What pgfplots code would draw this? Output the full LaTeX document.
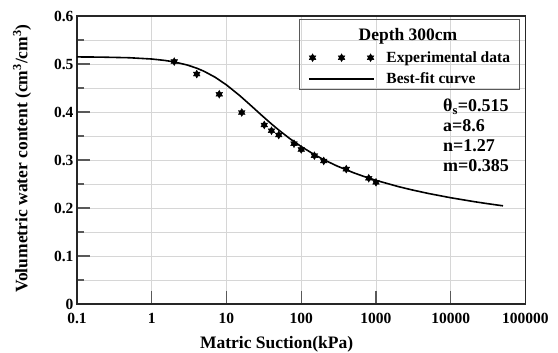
\documentclass[border=0pt]{standalone}
\usepackage{pgfplots}
\pgfplotsset{compat=1.18}
\usepackage{fontspec}
\setmainfont{Liberation Serif}

% filled six-pointed star made of two overlapping triangles
\pgfdeclareplotmark{hexstar}{%
  \pgfpathmoveto{\pgfqpointpolar{90}{\pgfplotmarksize}}%
  \pgfpathlineto{\pgfqpointpolar{210}{\pgfplotmarksize}}%
  \pgfpathlineto{\pgfqpointpolar{330}{\pgfplotmarksize}}%
  \pgfpathclose
  \pgfpathmoveto{\pgfqpointpolar{270}{\pgfplotmarksize}}%
  \pgfpathlineto{\pgfqpointpolar{30}{\pgfplotmarksize}}%
  \pgfpathlineto{\pgfqpointpolar{150}{\pgfplotmarksize}}%
  \pgfpathclose
  \pgfusepathqfillstroke}

% measured water content, depth 300 cm
\pgfplotstableread{
psi theta
2    0.505
4    0.479
8    0.437
16   0.399
32   0.373
40   0.361
50   0.352
80   0.334
100  0.322
150  0.309
200  0.298
400  0.281
800  0.262
1000 0.2535
}\measured

% fitted curve (theta_s=0.515, a=8.6, n=1.27, m=0.385)
\pgfplotstableread{
psi theta
0.1   0.51475
0.2   0.51439
0.5   0.51305
1     0.51039
1.5   0.50742
2     0.50429
3     0.49781
4     0.49128
5     0.48487
7     0.47269
10    0.45641
15    0.43427
20    0.41705
25    0.40338
30    0.39219
40    0.37507
50    0.36242
70    0.34473
100   0.32793
150   0.31120
200   0.30071
300   0.28762
500   0.27349
700   0.26537
1000  0.25759
2000  0.24451
3000  0.23786
5000  0.23033
10000 0.22135
20000 0.21351
30000 0.20936
50000 0.20452
}\fitted

\newcommand\tickfont{\fontsize{15.5bp}{18bp}\selectfont\bfseries}
\newcommand\labfont{\fontsize{17.5bp}{20bp}\selectfont\bfseries}

\begin{document}
\begin{tikzpicture}
\begin{axis}[
  scale only axis,
  width=448.5bp, height=288bp,
  xmode=log, log basis x=10,
  xmin=0.1, xmax=100000, ymin=0, ymax=0.6,
  xtick={0.1,1,10,100,1000,10000,100000},
  xticklabels={0.1,1,10,100,1000,10000,100000},
  ytick={0,0.1,0.2,0.3,0.4,0.5,0.6},
  yticklabels={0,0.1,0.2,0.3,0.4,0.5,0.6},
  minor ytick={0.05,0.15,0.25,0.35,0.45,0.55},
  grid=both,
  major grid style={gray!32, line width=0.8bp},
  minor grid style={gray!32, line width=0.8bp},
  tick align=inside,
  xtick pos=left, ytick pos=left,
  major tick length=13bp, minor tick length=7bp,
  every tick/.style={black!65, line width=1.4bp},
  axis line style={black!85, line width=1.6bp},
  /pgf/number format/assume math mode=true,
  tick label style={font=\tickfont},
  xticklabel style={yshift=-6bp},
  xlabel={Matric Suction(kPa)},
  ylabel={Volumetric water content (cm\textsuperscript{3}/cm\textsuperscript{3})},
  label style={font=\labfont},
  xlabel style={at={(axis description cs:0.445,-0.141)}, anchor=center},
  ylabel style={at={(axis description cs:-0.1226,0.505)}, anchor=center},
  legend style={at={(rel axis cs:0.515,0.818)}, anchor=west,
    draw=none, fill=none, font=\tickfont, inner sep=0pt,
    nodes={inner sep=1.5bp}, row sep=6bp},
  legend cell align=left,
]
\addplot[only marks, mark=hexstar, mark size=3.9bp, black, fill=black,
  legend image code/.code={%
    \draw[mark repeat=1] plot coordinates {(0bp,0bp) (29bp,0bp) (58bp,0bp)};
    \path (71.6bp,0bp);}]
  table[x=psi, y=theta] {\measured};
\addlegendentry{Experimental data}
\addplot[black, line width=1.6bp, no marks,
  legend image code/.code={%
    \draw[line width=1.6bp] (-3.6bp,0bp) -- (61.6bp,0bp);
    \path (71.6bp,0bp);}]
  table[x=psi, y=theta] {\fitted};
\addlegendentry{Best-fit curve}

% legend frame and title
\draw[gray!70!black, line width=0.9bp]
  (rel axis cs:0.495,0.9896) rectangle (rel axis cs:0.9855,0.7465);
\node[font=\labfont, anchor=center] at (rel axis cs:0.738,0.9306) {Depth 300cm};

% fitted parameters
\node[font=\fontsize{18bp}{20bp}\selectfont\bfseries, anchor=north west,
  align=left, inner sep=0pt] at (rel axis cs:0.816,0.712)
  {θ\textsubscript{s}=0.515\\a=8.6\\n=1.27\\m=0.385};
\end{axis}
\pgfresetboundingbox
\path[use as bounding box] (-77bp,-49bp) rectangle (481bp,304bp);
\end{tikzpicture}
\end{document}
